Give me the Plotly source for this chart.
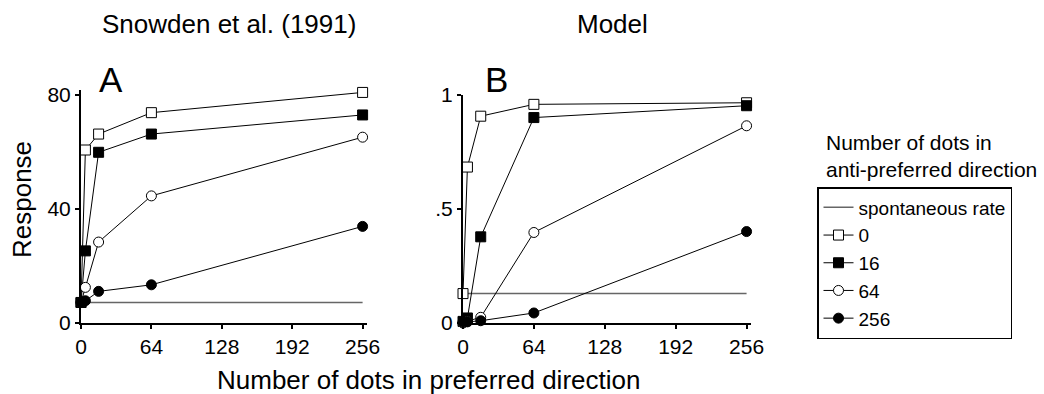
import plotly.graph_objects as go

W, H = 1044, 394

# ---- data ----
x_dots = [0, 4, 16, 64, 256]
x_ticks = [0, 64, 128, 192, 256]
anti_labels = ["0", "16", "64", "256"]

# Panel A: Snowden et al. (1991)
snow_spont = 7.2
snow_0 = [7.2, 60.7, 66.3, 73.8, 80.9]
snow_16 = [7.2, 25.3, 59.9, 66.3, 73.0]
snow_64 = [7.2, 12.5, 28.4, 44.6, 65.2]
snow_256 = [7.2, 7.8, 11.1, 13.4, 33.9]

# Panel B: Model
model_spont = 0.129
model_0 = [0.129, 0.684, 0.907, 0.959, 0.966]
model_16 = [0.007, 0.022, 0.378, 0.901, 0.953]
model_64 = [0.0, 0.008, 0.025, 0.397, 0.865]
model_256 = [0.003, 0.005, 0.010, 0.044, 0.401]

a_yticks = [0, 40, 80]
b_yticks = [0, 0.5, 1]
b_yticktext = ["0", ".5", "1"]

FONT = "Liberation Sans, Arial, sans-serif"

styles = {
    "0": dict(symbol="square", color="white"),
    "16": dict(symbol="square", color="black"),
    "64": dict(symbol="circle", color="white"),
    "256": dict(symbol="circle", color="black"),
}

fig = go.Figure()

def px_x(p):
    return p / W

def px_y(p):
    return 1 - p / H

panels = [
    ("x", "y", snow_spont, [snow_0, snow_16, snow_64, snow_256], True),
    ("x2", "y2", model_spont, [model_0, model_16, model_64, model_256], False),
]

for xa, ya, spont, series, show in panels:
    fig.add_trace(go.Scatter(
        x=[x_dots[0], x_dots[-1]], y=[spont, spont], mode="lines",
        line=dict(color="#666666", width=1.5),
        name="spontaneous rate", legendgroup="spont", showlegend=show,
        xaxis=xa, yaxis=ya, cliponaxis=False, hoverinfo="skip"))
    for lab, vals in zip(anti_labels, series):
        st = styles[lab]
        fig.add_trace(go.Scatter(
            x=x_dots, y=vals, mode="lines+markers",
            line=dict(color="black", width=1),
            marker=dict(symbol=st["symbol"], size=10, color=st["color"],
                        line=dict(color="black", width=1)),
            name=lab, legendgroup=lab, showlegend=show,
            xaxis=xa, yaxis=ya, cliponaxis=False))

axis_common = dict(
    showline=True, linecolor="black", linewidth=2, ticks="outside",
    ticklen=4, tickwidth=1.5, tickcolor="black", showgrid=False,
    zeroline=False, automargin=False,
    tickfont=dict(family=FONT, size=21, color="black"),
)

# pixel geometry: value 0 at y=323, 80 (or 1) at y=95
y_bot = 323
a_ymax = 81.6
a_top = y_bot - (y_bot - 95) * a_ymax / 80
b_ymax = 1.0
b_top = 95
fig.update_layout(
    template="none",
    width=W, height=H,
    margin=dict(l=0, r=0, t=0, b=0, pad=0, autoexpand=False),
    paper_bgcolor="white", plot_bgcolor="white",
    font=dict(family=FONT, color="black"),
    xaxis=dict(domain=[px_x(81), px_x(367)], range=[0, 260],
               tickvals=x_ticks, anchor="y", **axis_common),
    yaxis=dict(domain=[px_y(y_bot), px_y(a_top)], range=[0, a_ymax],
               tickvals=a_yticks, anchor="x", **axis_common),
    xaxis2=dict(domain=[px_x(463), px_x(751)], range=[0, 260],
                tickvals=x_ticks, anchor="y2", **axis_common),
    yaxis2=dict(domain=[px_y(y_bot), px_y(b_top)], range=[0, b_ymax],
                tickvals=b_yticks, ticktext=b_yticktext, anchor="x2",
                **axis_common),
    legend=dict(x=px_x(817), y=px_y(187), xanchor="left", yanchor="top",
                bordercolor="black", borderwidth=1.5, bgcolor="white",
                font=dict(family=FONT, size=19, color="black"),
                tracegroupgap=0, itemwidth=30),
    showlegend=True,
)

def ann(text, x, y, size, **kw):
    opts = dict(xanchor="center", yanchor="middle")
    opts.update(kw)
    fig.add_annotation(text=text, x=px_x(x), y=px_y(y), xref="paper",
                       yref="paper", showarrow=False,
                       font=dict(family=FONT, size=size, color="black"), **opts)

ann("Snowden et al. (1991)", 229, 24, 26)
ann("Model", 612, 24, 26)
ann("A", 111, 80, 35)
ann("B", 496, 80, 35)
ann("Response", 22, 200, 26, textangle=-90)
ann("Number of dots in preferred direction", 428, 380, 26)
ann("Number of dots in<br>anti-preferred direction", 824, 156, 21,
    xanchor="left", align="left")

fig.write_html("out.html")
